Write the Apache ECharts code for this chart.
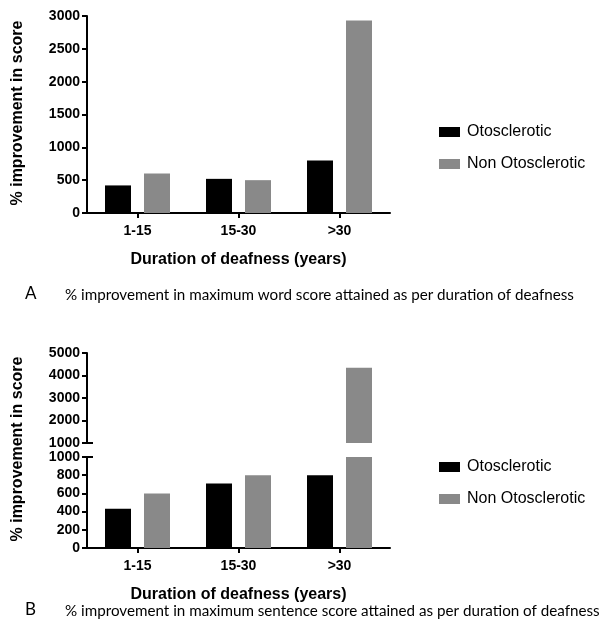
<!DOCTYPE html>
<html>
<head>
<meta charset="utf-8">
<script src="https://cdn.jsdelivr.net/npm/echarts@6/dist/echarts.min.js"></script>
<style>
html,body{margin:0;padding:0;background:#fff;}
#main{width:604px;height:632px;}
</style>
</head>
<body>
<div id="main"></div>
<script>
// ---- data ----
var categories = ['1-15', '15-30', '>30'];
var seriesNames = ['Otosclerotic', 'Non Otosclerotic'];
// Panel A: % improvement in maximum word score
var wordOto = [420, 520, 800];
var wordNonOto = [600, 500, 2930];
// Panel B: % improvement in maximum sentence score
var sentOto = [430, 710, 800];
var sentNonOto = [600, 800, 4350];
// axis ticks [min, max, step]
var yTicksA = [0, 3000, 500];
var yTicksBLow = [0, 1000, 200];
var yTicksBHigh = [1000, 5000, 1000];
var yAxisTitle = '% improvement in score';
var xAxisTitle = 'Duration of deafness (years)';
var captionA = '% improvement in maximum word score attained as per duration of deafness';
var captionB = '% improvement in maximum sentence score attained as per duration of deafness';
var breakValue = 1000;

var BLACK = '#000000', GREY = '#898989';
var FONT = "'Liberation Sans', Arial, Helvetica, sans-serif";

var chart = echarts.init(document.getElementById('main'), null, {renderer: 'canvas'});

var gridLeft = 87, gridW = 303;
function xAx(gi, show) {
  return {
    type: 'category', gridIndex: gi, data: categories, show: show,
    axisLine: {show: true, lineStyle: {color: '#000', width: 2}},
    axisTick: {show: true, alignWithLabel: true, length: 5, lineStyle: {color: '#000', width: 2}},
    axisLabel: {color: '#000', fontFamily: FONT, fontWeight: 'bold', fontSize: 14, margin: 11},
    name: show ? xAxisTitle : '', nameLocation: 'middle', nameGap: 39,
    nameTextStyle: {color: '#000', fontFamily: FONT, fontWeight: 'bold', fontSize: 16}
  };
}
function yAx(gi, t) {
  return {
    type: 'value', gridIndex: gi, min: t[0], max: t[1], interval: t[2],
    splitLine: {show: false},
    axisLine: {show: true, lineStyle: {color: '#000', width: 2}},
    axisTick: {show: true, length: 5, lineStyle: {color: '#000', width: 2}},
    axisLabel: {color: '#000', fontFamily: FONT, fontWeight: 'bold', fontSize: 14, margin: 7,
      formatter: function (v) { return String(v); }}
  };
}
function bar(name, data, gi, color) {
  return {
    name: name, type: 'bar', xAxisIndex: gi, yAxisIndex: gi, data: data,
    barWidth: 26, barGap: '50%', clip: true,
    itemStyle: {color: color}, silent: true
  };
}
function above(arr) { return arr.map(function (v) { return v > breakValue ? v : '-'; }); }

var legendStyle = {
  orient: 'vertical', left: 434, itemWidth: 21, itemHeight: 10, itemGap: 16,
  icon: 'rect', data: seriesNames,
  textStyle: {color: '#000', fontFamily: FONT, fontSize: 16, padding: [0, 0, 0, 2]}
};

var option = {
  animation: false,
  backgroundColor: '#fff',
  grid: [
    {left: gridLeft, width: gridW, top: 16, height: 197},
    {left: gridLeft, width: gridW, top: 353, height: 90},
    {left: gridLeft, width: gridW, top: 457, height: 91}
  ],
  xAxis: [xAx(0, true), xAx(1, false), xAx(2, true)],
  yAxis: [yAx(0, yTicksA), yAx(1, yTicksBHigh), yAx(2, yTicksBLow)],
  legend: [
    Object.assign({}, legendStyle, {top: 119}),
    Object.assign({}, legendStyle, {top: 454})
  ],
  series: [
    bar(seriesNames[0], wordOto, 0, BLACK),
    bar(seriesNames[1], wordNonOto, 0, GREY),
    bar(seriesNames[0], above(sentOto), 1, BLACK),
    bar(seriesNames[1], above(sentNonOto), 1, GREY),
    bar(seriesNames[0], sentOto, 2, BLACK),
    bar(seriesNames[1], sentNonOto, 2, GREY)
  ]
};
chart.setOption(option);

// break marks and text graphics
var yTopBreak = chart.convertToPixel({yAxisIndex: 1}, breakValue);
var yLowBreak = chart.convertToPixel({yAxisIndex: 2}, breakValue);
var ax = gridLeft;
var capFont = "Lato, 'Open Sans', sans-serif";
chart.setOption({
  graphic: [
    {type: 'line', shape: {x1: ax - 1, y1: yTopBreak, x2: ax + 6, y2: yTopBreak}, style: {stroke: '#000', lineWidth: 2}},
    {type: 'line', shape: {x1: ax - 1, y1: yLowBreak, x2: ax + 6, y2: yLowBreak}, style: {stroke: '#000', lineWidth: 2}},
    {type: 'text', x: 18, y: 113, rotation: Math.PI / 2,
      style: {text: yAxisTitle, fill: '#000', font: 'bold 16px ' + FONT, textAlign: 'center', textVerticalAlign: 'middle'}},
    {type: 'text', x: 18, y: 449, rotation: Math.PI / 2,
      style: {text: yAxisTitle, fill: '#000', font: 'bold 16px ' + FONT, textAlign: 'center', textVerticalAlign: 'middle'}},
    {type: 'text', x: 25, y: 294,
      style: {text: 'A', fill: '#000', font: '17px ' + capFont, textAlign: 'left', textVerticalAlign: 'middle'}},
    {type: 'text', x: 65, y: 295,
      style: {text: captionA, fill: '#000', font: '15.2px ' + capFont, textAlign: 'left', textVerticalAlign: 'middle'}},
    {type: 'text', x: 25, y: 610,
      style: {text: 'B', fill: '#000', font: '17px ' + capFont, textAlign: 'left', textVerticalAlign: 'middle'}},
    {type: 'text', x: 65, y: 611,
      style: {text: captionB, fill: '#000', font: '15.2px ' + capFont, textAlign: 'left', textVerticalAlign: 'middle'}}
  ]
});
</script>
</body>
</html>
